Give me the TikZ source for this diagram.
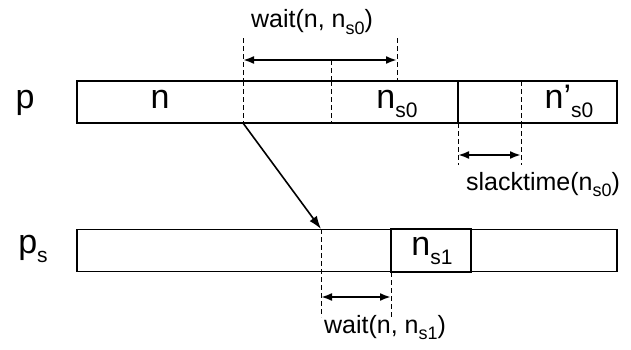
\documentclass[tikz,border=0pt]{standalone}
\usepackage{fontspec}
\setmainfont{Liberation Sans}
\usetikzlibrary{arrows.meta}
\newcommand{\bigsub}[1]{\raisebox{-9pt}{\fontsize{21}{21}\selectfont#1}}
\newcommand{\notesub}[1]{\raisebox{-6pt}{\fontsize{18}{18}\selectfont#1}}
\tikzset{
  slot/.style={draw, line width=1.8pt, minimum height=42pt, inner sep=0pt},
  guide/.style={line width=1pt, dash pattern=on 5pt off 3pt},
  span/.style={{Latex[length=11pt,width=8pt]}-{Latex[length=11pt,width=8pt]}, line width=2pt},
  big/.style={font=\fontsize{34}{38}\selectfont, anchor=base, inner sep=0pt},
  note/.style={font=\fontsize{25}{30}\selectfont, anchor=base, inner sep=0pt},
}

\begin{document}
\begin{tikzpicture}[x=1pt, y=1pt]
\useasboundingbox (0,0) rectangle (631,349);

% rows of processor p and p_s
\node[slot, minimum width=540pt] (rowp) at (347,247) {};
\node[slot, minimum width=540pt] (rowps) at (347,98.5) {};
\node[big] (lp) at (25,241) {p};
\node[big] (lps) at (33,96) {p\bigsub{s}};

% cells of p
\node[big] (n) at (160,241) {n};
\node[big] (ns0) at (397,241) {n\bigsub{s0}};
\node[big] (nps0) at (569,241) {n’\bigsub{s0}};
\draw[line width=1.8pt] (458,268) -- (458,226);
\foreach \x in {243, 331, 521} {
  \draw[guide] (\x,268) -- (\x,226);
}

% cell of p_s
\node[slot, minimum width=80pt, minimum height=43pt] (ns1box) at (431,98.5) {};
\node[big] (ns1) at (432,94) {n\bigsub{s1}};

% guide lines
\coordinate (wa) at (243,289);
\coordinate (wb) at (397,289);
\coordinate (sa) at (458,194);
\coordinate (sb) at (521,194);
\coordinate (ta) at (321,52);
\coordinate (tb) at (391,52);
\coordinate (send) at (243,226);
\coordinate (recv) at (321,120);
\draw[guide] (243,311) -- (243,268);
\draw[guide] (331,289) -- (331,268);
\draw[guide] (397,311) -- (397,268);
\draw[guide] (458,226) -- (458,184);
\draw[guide] (521,226) -- (521,184);
\draw[guide] (321,120) -- (321,32);
\draw[guide] (391,77) -- (391,32);

% spans
\draw[span] (wa) -- (wb);
\draw[span] (sa) -- (sb);
\draw[span] (ta) -- (tb);
\node[note] (wlbl) at (312,321) {wait(n, n\notesub{s0})};
\node[note] (slbl) at (543,159) {slacktime(n\notesub{s0})};
\node[note] (tlbl) at (385,16) {wait(n, n\notesub{s1})};

% message from p to p_s
\draw[-{Latex[length=13pt,width=9pt]}, line width=1.6pt] (send) -- (recv);
\end{tikzpicture}
\end{document}
